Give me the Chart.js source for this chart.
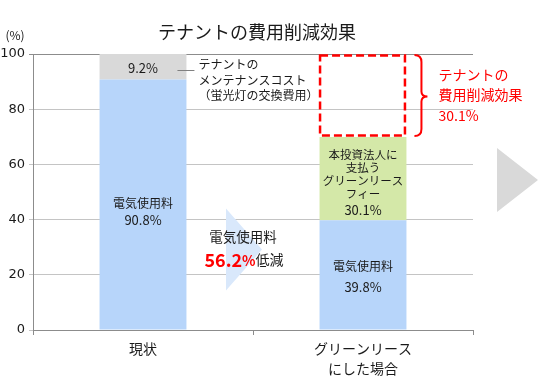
<!DOCTYPE html>
<html><head><meta charset="utf-8">
<script src="https://cdn.jsdelivr.net/npm/chart.js@4.4.1/dist/chart.umd.min.js"></script>
<style>html,body{margin:0;padding:0;background:#fff}canvas{display:block}</style>
</head><body>
<canvas id="c" width="544" height="388"></canvas>
<script>
// ---- data ----
const categories = ['現状', ['グリーンリース', 'にした場合']];
const electricityCost = [90.8, 39.8];
const maintenanceCost = [9.2, null];
const greenLeaseFee = [null, 30.1];
const tenantSavings = [null, 30.1];
const electricityReduction = 56.2;
const yTickValues = [0, 20, 40, 60, 80, 100];

// ---- styles ----
const JP = '"Noto Sans CJK JP", "Noto Sans", sans-serif';
const NUM = '"DejaVu Sans", sans-serif';
const BLACK = '#1a1a1a';
const RED = '#ff0000';
const pct = v => v.toFixed(1) + '%';

function txt(ctx, s, x, y, font, color, align) {
  ctx.font = font; ctx.fillStyle = color;
  ctx.textAlign = align || 'center'; ctx.textBaseline = 'middle';
  ctx.fillText(s, x, y);
}

const overlay = {
  id: 'overlay',
  beforeDatasetsDraw(chart) {
    const { ctx, scales: { x, y } } = chart;
    const mid = (x.getPixelForValue(0) + x.getPixelForValue(1)) / 2;
    ctx.save();
    ctx.fillStyle = '#d9e8fb';
    ctx.beginPath();
    ctx.moveTo(mid - 27, y.getPixelForValue(44));
    ctx.lineTo(mid + 9, y.getPixelForValue(29.2));
    ctx.lineTo(mid - 27, y.getPixelForValue(14.3));
    ctx.closePath(); ctx.fill();
    ctx.restore();
  },
  afterDatasetsDraw(chart) {
    const { ctx, scales: { x, y }, chartArea: ca } = chart;
    ctx.save();
    // electricity labels
    const m0 = chart.getDatasetMeta(0);
    const eOff = [[-1.5, 15.5], [-8, 12]];
    m0.data.forEach((el, j) => {
      const v = electricityCost[j]; if (v == null) return;
      const cy = (el.y + el.base) / 2;
      txt(ctx, '電気使用料', el.x, cy + eOff[j][0], '12px ' + JP, BLACK);
      txt(ctx, pct(v), el.x, cy + eOff[j][1], '13px ' + JP, BLACK);
    });
    // maintenance
    const m1 = chart.getDatasetMeta(1);
    m1.data.forEach((el, j) => {
      const v = maintenanceCost[j]; if (v == null) return;
      const cy = (el.y + el.base) / 2;
      txt(ctx, pct(v), el.x, cy + 1, '13px ' + JP, BLACK);
      const r = el.x + el.width / 2;
      ctx.strokeStyle = '#808080'; ctx.lineWidth = 1;
      ctx.beginPath(); ctx.moveTo(r - 9, Math.round(el.y + 16) + 0.5); ctx.lineTo(r + 8, Math.round(el.y + 16) + 0.5); ctx.stroke();
      txt(ctx, 'テナントの', r + 12, el.y + 10, '12px ' + JP, BLACK, 'left');
      txt(ctx, 'メンテナンスコスト', r + 12, el.y + 26, '12px ' + JP, BLACK, 'left');
      txt(ctx, '（蛍光灯の交換費用）', r + 12, el.y + 41, '12px ' + JP, BLACK, 'left');
    });
    // green lease fee
    const m2 = chart.getDatasetMeta(2);
    m2.data.forEach((el, j) => {
      const v = greenLeaseFee[j]; if (v == null) return;
      const cy = (el.y + el.base) / 2;
      const lines = ['本投資法人に', '支払う', 'グリーンリース', 'フィー'];
      const offs = [-23.5, -10.5, 2.5, 15.5];
      lines.forEach((s, k) => txt(ctx, s, el.x, cy + offs[k], '11.5px ' + JP, BLACK));
      txt(ctx, pct(v), el.x, cy + 31.5, '13px ' + JP, BLACK);
    });
    // savings dashed box + bracket + text
    const m3 = chart.getDatasetMeta(3);
    m3.data.forEach((el, j) => {
      const v = tenantSavings[j]; if (v == null) return;
      const l = el.x - el.width / 2, r = el.x + el.width / 2;
      const top = el.y, bot = el.base;
      ctx.strokeStyle = RED; ctx.lineWidth = 2.5; ctx.setLineDash([8, 4]);
      ctx.strokeRect(l + 0.5, top + 1.5, r - l - 2, bot - top - 3);
      ctx.setLineDash([]);
      const x0 = r + 8, sp = r + 15, tip = r + 21, midY = (top + bot) / 2 + 1;
      ctx.lineWidth = 2;
      ctx.beginPath();
      ctx.moveTo(x0, top + 1);
      ctx.quadraticCurveTo(sp, top + 1, sp, top + 8);
      ctx.lineTo(sp, midY - 5);
      ctx.quadraticCurveTo(sp, midY, tip, midY);
      ctx.quadraticCurveTo(sp, midY, sp, midY + 5);
      ctx.lineTo(sp, bot - 8);
      ctx.quadraticCurveTo(sp, bot - 1, x0, bot - 1);
      ctx.stroke();
      txt(ctx, 'テナントの', r + 32, top + 21, '14px ' + JP, RED, 'left');
      txt(ctx, '費用削減効果', r + 32, top + 41, '14px ' + JP, RED, 'left');
      txt(ctx, pct(v), r + 32, top + 62, '14px ' + JP, RED, 'left');
    });
    // middle arrow text
    const mid = (x.getPixelForValue(0) + x.getPixelForValue(1)) / 2;
    txt(ctx, '電気使用料', mid - 10, y.getPixelForValue(33.6), '13.5px ' + JP, BLACK);
    const ly = y.getPixelForValue(25.3);
    const f1 = 'bold 18px ' + JP, f2 = 'bold 14px ' + JP, f3 = '14px ' + JP;
    const s1 = electricityReduction.toFixed(1), s2 = '%', s3 = '低減';
    ctx.font = f1; const w1 = ctx.measureText(s1).width;
    ctx.font = f2; const w2 = ctx.measureText(s2).width;
    ctx.font = f3; const w3 = ctx.measureText(s3).width;
    let sx = mid - 9 - (w1 + w2 + w3) / 2;
    txt(ctx, s1, sx, ly, f1, RED, 'left'); sx += w1;
    txt(ctx, s2, sx, ly + 1, f2, RED, 'left'); sx += w2;
    txt(ctx, s3, sx, ly, f3, BLACK, 'left');
    ctx.restore();
  },
  afterDraw(chart) {
    const { ctx, chartArea: ca } = chart;
    ctx.save();
    txt(ctx, 'テナントの費用削減効果', 257, 32, '18px ' + JP, BLACK);
    txt(ctx, '(%)', 15, 35, '12px ' + JP, BLACK);
    ctx.fillStyle = '#d9d9d9';
    ctx.beginPath();
    ctx.moveTo(ca.right + 24, 148);
    ctx.lineTo(ca.right + 65, 180);
    ctx.lineTo(ca.right + 24, 212);
    ctx.closePath(); ctx.fill();
    ctx.restore();
  }
};

new Chart(document.getElementById('c'), {
  type: 'bar',
  data: {
    labels: categories,
    datasets: [
      { label: '電気使用料', data: electricityCost, backgroundColor: '#b7d5fa' },
      { label: 'メンテナンスコスト', data: maintenanceCost, backgroundColor: '#d9d9d9' },
      { label: 'グリーンリースフィー', data: greenLeaseFee, backgroundColor: '#d4e8a8' },
      { label: '費用削減効果', data: tenantSavings, backgroundColor: 'rgba(0,0,0,0)' }
    ]
  },
  options: {
    responsive: false,
    devicePixelRatio: 1,
    animation: false,
    events: [],
    layout: { padding: { top: 54, right: 71, left: 0, bottom: 0 } },
    plugins: { legend: { display: false }, tooltip: { enabled: false }, title: { display: false } },
    datasets: { bar: { categoryPercentage: 1, barPercentage: 0.395, borderWidth: 0 } },
    scales: {
      x: {
        stacked: true,
        afterFit: s => { s.height = 58; },
        grid: { offset: true, drawOnChartArea: false, color: '#8c8c8c', tickColor: '#8c8c8c', tickLength: 5 },
        border: { color: '#8c8c8c' },
        ticks: { color: BLACK, font: { family: JP, size: 14, lineHeight: 1.4 }, padding: 4, maxRotation: 0 }
      },
      y: {
        stacked: true, min: 0, max: 100,
        afterFit: s => { s.width = 33; },
        afterBuildTicks: s => { s.ticks = yTickValues.map(v => ({ value: v })); },
        grid: {
          color: c => (c.tick && c.tick.value === 100) ? '#8c8c8c' : '#c4c4c4',
          tickColor: c => (c.tick && c.tick.value === 100) ? '#8c8c8c' : '#c4c4c4',
          tickLength: 4
        },
        border: { color: '#8c8c8c' },
        ticks: { color: BLACK, font: { family: '"DejaVu Sans", sans-serif', size: 13 }, padding: 4 }
      }
    }
  },
  plugins: [overlay]
});
</script>
</body></html>
